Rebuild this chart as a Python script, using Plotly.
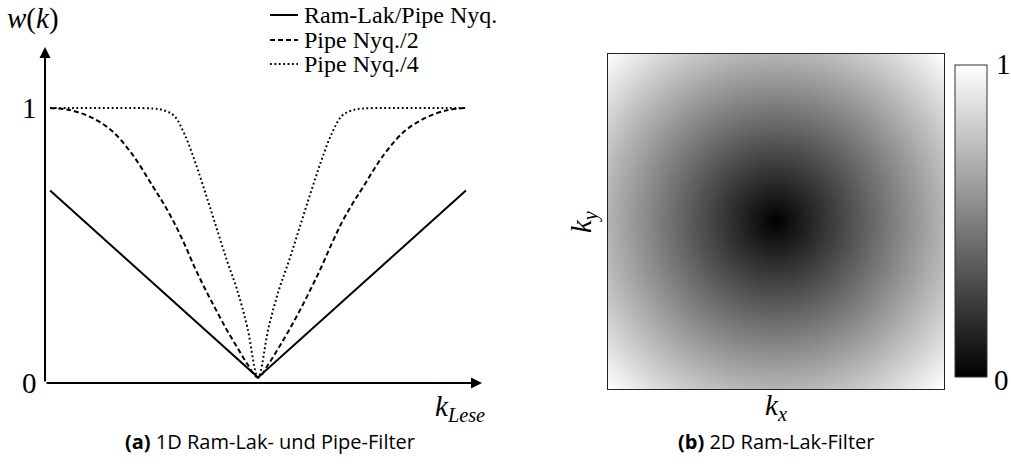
import numpy as np
import plotly.graph_objects as go

W, H = 1011, 464

# ---------------- data: panel (a) ----------------
k_ramlak = [-0.99, 0.0, 0.99]
w_ramlak = [0.70, 0.02, 0.70]

k_pipe = [-0.99, -0.9, -0.8, -0.7, -0.6, -0.5, -0.45, -0.4, -0.35, -0.3, -0.25, -0.2,
          -0.15, -0.1, -0.05, 0.0, 0.05, 0.1, 0.15, 0.2, 0.25, 0.3, 0.35, 0.4, 0.45,
          0.5, 0.6, 0.7, 0.8, 0.9, 0.99]
w_pipe2 = [1.0, 0.993, 0.968, 0.92, 0.833, 0.714, 0.653, 0.584, 0.505, 0.418, 0.339, 0.266,
           0.195, 0.131, 0.068, 0.02, 0.069, 0.13, 0.195, 0.265, 0.34, 0.419, 0.505, 0.585, 0.652,
           0.712, 0.831, 0.917, 0.965, 0.992, 1.0]
w_pipe4 = [1.0, 1.0, 1.0, 1.0, 1.0, 0.998, 0.992, 0.972, 0.905, 0.805, 0.69, 0.57,
           0.45, 0.34, 0.2, 0.02, 0.2, 0.34, 0.45, 0.57, 0.69, 0.805, 0.905, 0.972, 0.992,
           0.998, 1.0, 1.0, 1.0, 1.0, 1.0]

names = ["Ram-Lak/Pipe Nyq.", "Pipe Nyq./2", "Pipe Nyq./4"]

# ---------------- data: panel (b) ----------------
# radial profile of the 2D Ram-Lak filter (normalised radius -> grey value)
r_profile = [0.0, 0.25, 0.5, 0.75, 1.0]
w_profile = [0.0, 0.25, 0.5, 0.75, 1.0]

kx = np.linspace(-1, 1, 241)
ky = np.linspace(-1, 1, 241)
KX, KY = np.meshgrid(kx, ky)
R = np.sqrt(KX ** 2 + KY ** 2) / np.sqrt(2)
Z = np.interp(R, r_profile, w_profile)

SERIF = "Liberation Serif"
SANS = "Open Sans"


def px_x(p):
    return p / W


def px_y(p):
    return 1 - p / H


styles = [dict(color="black", width=2),
          dict(color="black", width=2, dash="5px,3px"),
          dict(color="black", width=2, dash="1.8px,2.6px")]

fig = go.Figure()

# panel (a) traces
fig.add_trace(go.Scatter(x=k_ramlak, y=w_ramlak, mode="lines", name=names[0],
                         line=styles[0], xaxis="x", yaxis="y", showlegend=False))
fig.add_trace(go.Scatter(x=k_pipe, y=w_pipe2, mode="lines", name=names[1],
                         line=styles[1], line_shape="spline", xaxis="x", yaxis="y",
                         showlegend=False))
fig.add_trace(go.Scatter(x=k_pipe, y=w_pipe4, mode="lines", name=names[2],
                         line=styles[2], line_shape="spline", xaxis="x", yaxis="y",
                         showlegend=False))

# panel (b) heatmap
fig.add_trace(go.Heatmap(
    x=kx, y=ky, z=Z, zmin=0, zmax=1,
    colorscale=[[0, "black"], [1, "white"]],
    xaxis="x2", yaxis="y2", showlegend=False,
    colorbar=dict(
        x=px_x(955), xanchor="left", xpad=0,
        y=px_y(65), yanchor="top", ypad=0,
        len=(377 - 65) / H, lenmode="fraction",
        thickness=32, thicknessmode="pixels",
        outlinewidth=1, outlinecolor="#333",
        showticklabels=False, ticks="",
    ),
))

# axis geometry for panel (a): x in data maps to px via 258 + 210*k ; y via 383 - 275*w
xa0, xa1 = 45, 482
ya0, ya1 = 383, 47
x_rng = [(xa0 - 258) / 210, (xa1 - 258) / 210]
y_rng = [0, (ya0 - ya1) / 275]

fig.update_layout(
    width=W, height=H,
    margin=dict(l=0, r=0, t=0, b=0),
    paper_bgcolor="white", plot_bgcolor="white",
    font=dict(family=SERIF, color="black"),
    xaxis=dict(domain=[px_x(xa0), px_x(xa1)], range=x_rng, visible=False, anchor="y"),
    yaxis=dict(domain=[px_y(ya0), px_y(ya1)], range=y_rng, visible=False, anchor="x"),
    xaxis2=dict(domain=[px_x(608), px_x(944)], range=[-1, 1], showticklabels=False, anchor="y2",
                ticks="", showgrid=False, zeroline=False, showline=True, mirror=True,
                linecolor="#222", linewidth=1),
    yaxis2=dict(domain=[px_y(389), px_y(54)], range=[-1, 1], showticklabels=False, anchor="x2",
                ticks="", showgrid=False, zeroline=False, showline=True, mirror=True,
                linecolor="#222", linewidth=1),
    showlegend=False,
)

# manual legend (line samples + labels)
legend_rows = [15, 40, 64]
shapes = []
ann = []
for name, st, row in zip(names, styles, legend_rows):
    shapes.append(dict(type="line", xref="paper", yref="paper",
                       x0=px_x(270), x1=px_x(298), y0=px_y(row), y1=px_y(row),
                       line=st))
    ann.append(dict(x=px_x(302), y=px_y(row), xref="paper", yref="paper",
                    xanchor="left", yanchor="middle", text=name, showarrow=False,
                    font=dict(family=SERIF, size=24, color="black")))

# axis arrows
ann.append(dict(x=x_rng[1], y=0, ax=x_rng[0], ay=0, xref="x", yref="y", axref="x", ayref="y",
                text="", showarrow=True, arrowhead=2, arrowsize=1.1, arrowwidth=2, arrowcolor="black"))
ann.append(dict(x=x_rng[0], y=y_rng[1], ax=x_rng[0], ay=0, xref="x", yref="y", axref="x", ayref="y",
                text="", showarrow=True, arrowhead=2, arrowsize=1.1, arrowwidth=2, arrowcolor="black"))
# tick labels
ann.append(dict(x=px_x(39), y=1, xref="paper", yref="y", xanchor="right", yanchor="middle",
                text="1", showarrow=False, font=dict(family=SERIF, size=29, color="black")))
ann.append(dict(x=px_x(39), y=0, xref="paper", yref="y", xanchor="right", yanchor="middle",
                text="0", showarrow=False, font=dict(family=SERIF, size=29, color="black")))
# axis titles panel (a)
ann.append(dict(x=px_x(33), y=px_y(18), xref="paper", yref="paper", xanchor="center", yanchor="middle",
                text="<i>w</i>(<i>k</i>)", showarrow=False, font=dict(family=SERIF, size=29, color="black")))
ann.append(dict(x=px_x(460), y=px_y(408), xref="paper", yref="paper", xanchor="center", yanchor="middle",
                text="<i>k</i><sub><i>Lese</i></sub>", showarrow=False,
                font=dict(family=SERIF, size=29, color="black")))
# panel (b) axis titles
ann.append(dict(x=px_x(776), y=px_y(407), xref="paper", yref="paper", xanchor="center", yanchor="middle",
                text="<i>k</i><sub><i>x</i></sub>", showarrow=False,
                font=dict(family=SERIF, size=29, color="black")))
ann.append(dict(x=px_x(583), y=px_y(222), xref="paper", yref="paper", xanchor="center", yanchor="middle",
                text="<i>k</i><sub><i>y</i></sub>", showarrow=False, textangle=-90,
                font=dict(family=SERIF, size=29, color="black")))
# colorbar labels
ann.append(dict(x=px_x(1003), y=px_y(64), xref="paper", yref="paper", xanchor="center", yanchor="middle",
                text="1", showarrow=False, font=dict(family=SERIF, size=29, color="black")))
ann.append(dict(x=px_x(1001), y=px_y(380), xref="paper", yref="paper", xanchor="center", yanchor="middle",
                text="0", showarrow=False, font=dict(family=SERIF, size=29, color="black")))
# captions
ann.append(dict(x=px_x(270), y=px_y(441), xref="paper", yref="paper", xanchor="center", yanchor="middle",
                text="<b>(a)</b> 1D Ram-Lak- und Pipe-Filter", showarrow=False,
                font=dict(family=SANS, size=20, color="black")))
ann.append(dict(x=px_x(776), y=px_y(441), xref="paper", yref="paper", xanchor="center", yanchor="middle",
                text="<b>(b)</b> 2D Ram-Lak-Filter", showarrow=False,
                font=dict(family=SANS, size=20, color="black")))

fig.update_layout(annotations=ann, shapes=shapes)

fig.write_html("out.html")
